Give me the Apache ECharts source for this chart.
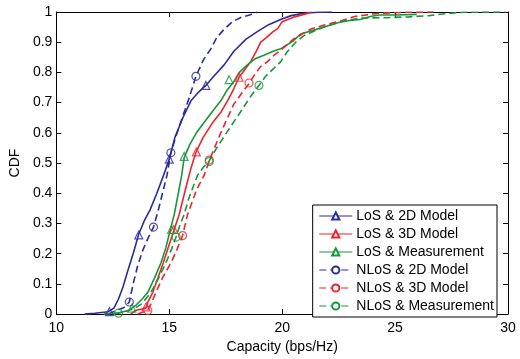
<!DOCTYPE html>
<html>
<head>
<meta charset="utf-8">
<script src="https://cdn.jsdelivr.net/npm/echarts@6/dist/echarts.min.js"></script>
<style>html,body{margin:0;padding:0;background:#fff}#c{width:520px;height:359px}</style>
</head>
<body>
<div id="c"></div>
<script>
const seriesNames = ['LoS & 2D Model','LoS & 3D Model','LoS & Measurement','NLoS & 2D Model','NLoS & 3D Model','NLoS & Measurement'];
const xTicks = [10,15,20,25,30];
const yTicks = [0,0.1,0.2,0.3,0.4,0.5,0.6,0.7,0.8,0.9,1];

const losModel2D = [[11.25,0],[11.7,0.003],[12.3,0.008],[12.55,0.02],[12.75,0.05],[12.95,0.09],[13.15,0.14],[13.4,0.2],[13.65,0.265],[13.9,0.31],[14.15,0.345],[14.45,0.4],[14.75,0.46],[15.0,0.513],[15.25,0.585],[15.6,0.65],[15.96,0.706],[16.3,0.735],[16.62,0.757],[17.0,0.79],[17.43,0.825],[17.86,0.87],[18.4,0.91],[18.9,0.935],[19.4,0.958],[19.93,0.975],[20.4,0.988],[20.95,0.996],[21.6,0.999],[22.2,1]];
const losModel3D = [[13.3,0],[13.5,0.012],[13.97,0.02],[14.05,0.04],[14.27,0.072],[14.5,0.12],[14.73,0.169],[14.95,0.22],[15.15,0.265],[15.44,0.33],[15.74,0.42],[15.95,0.48],[16.18,0.535],[16.5,0.585],[16.95,0.637],[17.3,0.67],[17.58,0.706],[17.85,0.745],[18.09,0.784],[18.35,0.81],[18.6,0.835],[18.85,0.87],[19.05,0.9],[19.3,0.915],[19.6,0.935],[19.8,0.945],[20.0,0.968],[20.5,0.983],[21.0,0.993],[21.3,1]];
const losMeas = [[12.5,0],[12.8,0.005],[13.2,0.012],[13.53,0.03],[13.8,0.05],[14.05,0.072],[14.35,0.12],[14.63,0.169],[14.85,0.22],[15.0,0.265],[15.22,0.33],[15.4,0.4],[15.55,0.46],[15.66,0.518],[15.9,0.56],[16.2,0.6],[16.55,0.635],[16.9,0.67],[17.28,0.706],[17.55,0.74],[17.87,0.771],[18.1,0.8],[18.46,0.825],[18.8,0.845],[19.19,0.857],[19.6,0.87],[19.93,0.878],[20.5,0.905],[20.81,0.927],[21.4,0.94],[21.99,0.954],[22.5,0.965],[23.0,0.972],[23.46,0.975],[23.9,0.985],[24.3,0.99],[25.0,0.99],[25.96,0.992]];
const nlosModel2D = [[12.3,0],[12.6,0.01],[13.0,0.022],[13.23,0.04],[13.4,0.1],[13.6,0.16],[13.82,0.21],[14.05,0.25],[14.3,0.288],[14.5,0.34],[14.7,0.4],[14.9,0.46],[15.07,0.534],[15.3,0.59],[15.59,0.653],[15.9,0.72],[16.18,0.787],[16.5,0.84],[16.84,0.878],[17.1,0.915],[17.43,0.943],[17.8,0.968],[18.2,0.983],[18.75,0.994],[18.9,1]];
const nlosModel3D = [[13.6,0],[13.8,0.005],[14.05,0.014],[14.2,0.035],[14.41,0.072],[14.7,0.12],[15.07,0.169],[15.35,0.215],[15.59,0.26],[15.81,0.33],[15.96,0.36],[16.2,0.41],[16.54,0.459],[16.77,0.507],[17.0,0.55],[17.28,0.6],[17.6,0.653],[17.86,0.695],[18.2,0.73],[18.53,0.763],[18.8,0.795],[19.05,0.82],[19.34,0.835],[19.64,0.857],[19.93,0.873],[20.5,0.91],[21.25,0.943],[21.9,0.958],[22.58,0.97],[23.2,0.985],[24.3,0.996],[25.5,0.999],[26.7,1]];
const nlosMeas = [[12.1,0],[12.75,0.003],[13.1,0.01],[13.45,0.018],[13.8,0.035],[14.19,0.072],[14.5,0.115],[14.85,0.169],[15.1,0.215],[15.3,0.255],[15.45,0.29],[15.66,0.33],[15.85,0.38],[16.05,0.42],[16.25,0.459],[16.5,0.485],[16.77,0.507],[17.1,0.55],[17.43,0.588],[17.8,0.63],[18.16,0.67],[18.6,0.72],[18.97,0.757],[19.3,0.79],[19.64,0.814],[19.93,0.835],[20.22,0.868],[20.6,0.9],[20.95,0.921],[21.5,0.94],[21.99,0.954],[22.7,0.97],[23.46,0.98],[24.6,0.981],[25.6,0.984],[26.5,0.988],[27.3,0.995],[28.0,0.999],[29.9,1]];

const losModel2DMarks = [[12.35,0.008],[13.65,0.262],[15.0,0.513],[16.62,0.757]];
const losModel3DMarks = [[13.97,0.024],[15.2,0.28],[16.2,0.537],[18.09,0.784]];
const losMeasMarks = [[13.35,0.02],[15.1,0.28],[15.66,0.522],[17.65,0.776]];
const nlosModel2DMarks = [[13.23,0.04],[14.3,0.288],[15.07,0.534],[16.18,0.787]];
const nlosModel3DMarks = [[14.05,0.012],[15.59,0.26],[16.77,0.51],[18.53,0.765]];
const nlosMeasMarks = [[12.75,0.003],[15.3,0.255],[16.77,0.505],[18.97,0.757]];

const lines = [losModel2D, losModel3D, losMeas, nlosModel2D, nlosModel3D, nlosMeas];
const marks = [losModel2DMarks, losModel3DMarks, losMeasMarks, nlosModel2DMarks, nlosModel3DMarks, nlosMeasMarks];
const colors = ['#2b2b9e','#f0222c','#17973a','#2b2b9e','#f0222c','#17973a'];
const dashed = [false,false,false,true,true,true];
const FONT = 'Liberation Sans, Arial, sans-serif';

const series = [];
lines.forEach((d,i)=>{
  series.push({
    name: seriesNames[i], type:'line', data:d, showSymbol:false,
    symbol: dashed[i] ? 'emptyCircle' : 'emptyTriangle',
    color: colors[i],
    lineStyle:{color:colors[i], width:1.6, type: dashed[i] ? [7,4] : 'solid'},
    itemStyle:{color:colors[i]},
    z: 2, silent:true
  });
});
marks.forEach((d,i)=>{
  series.push({
    name: seriesNames[i] + ' markers', type:'scatter', data:d,
    symbol: dashed[i] ? 'circle' : 'triangle', symbolSize: 8,
    itemStyle:{color:'rgba(255,255,255,0)', borderColor:colors[i], borderWidth:1.2},
    z: 3, silent:true
  });
});

const axisCommon = {
  type:'value',
  axisLine:{show:true, onZero:false, lineStyle:{color:'#000', width:1}},
  axisTick:{show:true, inside:true, length:5, lineStyle:{color:'#000'}},
  splitLine:{show:false}
};

const chart = echarts.init(document.getElementById('c'), null, {renderer:'canvas'});
chart.setOption({
  animation:false,
  backgroundColor:'#fff',
  grid:{left:55, right:12, top:12, bottom:37},
  legend:{
    data: seriesNames,
    orient:'vertical', right:23, top:205,
    backgroundColor:'#fff', borderColor:'#000', borderWidth:1,
    padding:[4,3,4,6], itemWidth:33, itemHeight:9, itemGap:4,
    lineStyle:{width:1.2},
    textStyle:{fontFamily:FONT, fontSize:14, color:'#000', padding:[0,0,0,-1]},
    selectedMode:false
  },
  xAxis:[
    Object.assign({}, axisCommon, {min:xTicks[0], max:xTicks[xTicks.length-1], interval:5, position:'bottom',
      name:'Capacity (bps/Hz)', nameLocation:'middle', nameGap:22,
      nameTextStyle:{fontFamily:FONT, fontSize:14, color:'#000'},
      axisLabel:{fontFamily:FONT, fontSize:14, color:'#000', margin:7}}),
    Object.assign({}, axisCommon, {min:xTicks[0], max:xTicks[xTicks.length-1], interval:5, position:'top', axisLabel:{show:false}})
  ],
  yAxis:[
    Object.assign({}, axisCommon, {min:0, max:1, interval:0.1, position:'left',
      name:'CDF', nameLocation:'middle', nameGap:29, nameRotate:90,
      nameTextStyle:{fontFamily:FONT, fontSize:14, color:'#000'},
      axisLabel:{fontFamily:FONT, fontSize:14, color:'#000', margin:4,
        formatter:(v)=>{ const r = Math.round(v*10)/10; return (r===0||r===1)? String(r) : r.toFixed(1); }}}),
    Object.assign({}, axisCommon, {min:0, max:1, interval:0.1, position:'right', axisLabel:{show:false}})
  ],
  series: series
});
</script>
</body>
</html>
